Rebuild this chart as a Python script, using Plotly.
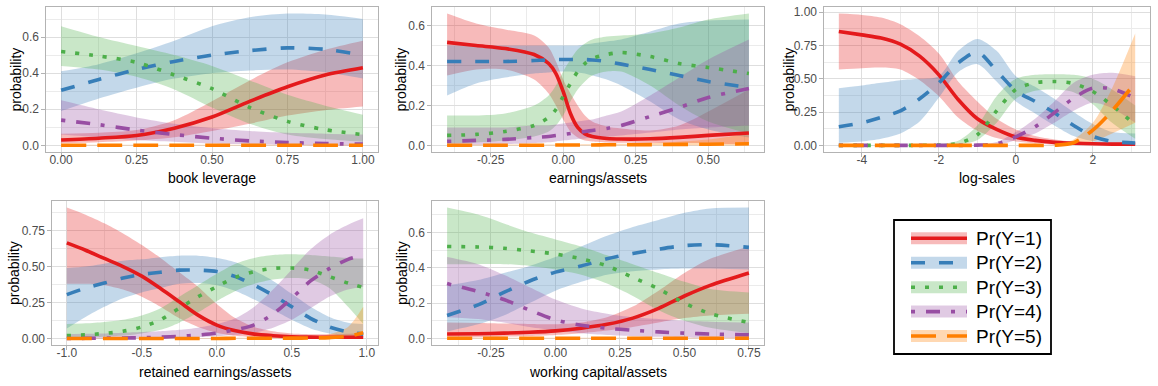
import plotly.graph_objects as go

# ---------------- data ----------------
# Panel 1: book leverage
lev_x = [0.0, 0.125, 0.25, 0.375, 0.5, 0.625, 0.75, 0.875, 1.0]
lev_p1 = [0.03, 0.04, 0.055, 0.095, 0.157, 0.244, 0.325, 0.39, 0.43]
lev_p1_lo = [0.012, 0.018, 0.027, 0.045, 0.08, 0.12, 0.165, 0.195, 0.215]
lev_p1_hi = [0.065, 0.07, 0.085, 0.14, 0.245, 0.36, 0.46, 0.53, 0.58]
lev_p2 = [0.305, 0.365, 0.42, 0.465, 0.50, 0.525, 0.54, 0.532, 0.50]
lev_p2_lo = [0.19, 0.26, 0.32, 0.37, 0.40, 0.415, 0.42, 0.405, 0.37]
lev_p2_hi = [0.41, 0.45, 0.51, 0.58, 0.66, 0.71, 0.73, 0.725, 0.70]
lev_p3 = [0.52, 0.495, 0.46, 0.39, 0.314, 0.21, 0.133, 0.087, 0.06]
lev_p3_lo = [0.44, 0.42, 0.38, 0.31, 0.21, 0.12, 0.06, 0.035, 0.02]
lev_p3_hi = [0.66, 0.60, 0.55, 0.50, 0.44, 0.36, 0.28, 0.22, 0.17]
lev_p4 = [0.14, 0.115, 0.085, 0.06, 0.04, 0.025, 0.016, 0.01, 0.007]
lev_p4_lo = [0.06, 0.045, 0.03, 0.02, 0.01, 0.005, 0.002, 0.001, 0.0]
lev_p4_hi = [0.25, 0.20, 0.155, 0.12, 0.095, 0.08, 0.07, 0.065, 0.06]
lev_p5 = [0.001, 0.001, 0.001, 0.001, 0.001, 0.001, 0.001, 0.001, 0.001]
lev_p5_lo = [0.0, 0.0, 0.0, 0.0, 0.0, 0.0, 0.0, 0.0, 0.0]
lev_p5_hi = [0.004, 0.004, 0.004, 0.004, 0.004, 0.004, 0.004, 0.004, 0.004]

# Panel 2: earnings/assets
ea_x = [-0.4, -0.3, -0.2, -0.1, -0.05, -0.025, 0.0, 0.025, 0.05, 0.075, 0.1, 0.15, 0.2, 0.3, 0.4, 0.5, 0.64]
ea_p1 = [0.516, 0.50, 0.485, 0.455, 0.41, 0.36, 0.27, 0.16, 0.09, 0.058, 0.045, 0.035, 0.032, 0.033, 0.04, 0.05, 0.062]
ea_p1_lo = [0.35, 0.38, 0.38, 0.33, 0.26, 0.2, 0.13, 0.07, 0.04, 0.025, 0.02, 0.015, 0.013, 0.012, 0.012, 0.01, 0.006]
ea_p1_hi = [0.66, 0.61, 0.58, 0.55, 0.49, 0.42, 0.33, 0.26, 0.2, 0.15, 0.12, 0.095, 0.085, 0.075, 0.1, 0.17, 0.28]
ea_p2 = [0.42, 0.42, 0.42, 0.425, 0.428, 0.43, 0.43, 0.43, 0.43, 0.43, 0.428, 0.42, 0.407, 0.38, 0.35, 0.32, 0.29]
ea_p2_lo = [0.25, 0.31, 0.34, 0.36, 0.365, 0.37, 0.37, 0.37, 0.365, 0.36, 0.35, 0.33, 0.3, 0.22, 0.13, 0.08, 0.04]
ea_p2_hi = [0.5, 0.5, 0.5, 0.5, 0.5, 0.5, 0.5, 0.5, 0.5, 0.505, 0.51, 0.52, 0.53, 0.57, 0.61, 0.625, 0.63]
ea_p3 = [0.05, 0.055, 0.07, 0.10, 0.14, 0.18, 0.245, 0.31, 0.37, 0.41, 0.435, 0.455, 0.465, 0.445, 0.41, 0.39, 0.36]
ea_p3_lo = [0.01, 0.015, 0.025, 0.045, 0.07, 0.1, 0.15, 0.22, 0.28, 0.32, 0.35, 0.37, 0.37, 0.3, 0.2, 0.12, 0.06]
ea_p3_hi = [0.15, 0.15, 0.16, 0.2, 0.25, 0.3, 0.37, 0.43, 0.48, 0.51, 0.53, 0.545, 0.55, 0.56, 0.59, 0.63, 0.66]
ea_p4 = [0.02, 0.025, 0.03, 0.04, 0.045, 0.05, 0.055, 0.06, 0.065, 0.07, 0.075, 0.085, 0.1, 0.145, 0.19, 0.24, 0.285]
ea_p4_lo = [0.0, 0.003, 0.006, 0.012, 0.016, 0.02, 0.024, 0.028, 0.032, 0.035, 0.038, 0.043, 0.05, 0.065, 0.08, 0.09, 0.1]
ea_p4_hi = [0.09, 0.09, 0.09, 0.1, 0.1, 0.105, 0.11, 0.115, 0.12, 0.125, 0.13, 0.15, 0.17, 0.25, 0.34, 0.43, 0.53]
ea_p5 = [0.001, 0.001, 0.001, 0.001, 0.001, 0.002, 0.002, 0.002, 0.002, 0.002, 0.002, 0.003, 0.003, 0.004, 0.005, 0.006, 0.008]
ea_p5_lo = [0.0] * 17
ea_p5_hi = [0.004, 0.004, 0.004, 0.004, 0.004, 0.005, 0.005, 0.005, 0.005, 0.006, 0.006, 0.007, 0.008, 0.012, 0.02, 0.03, 0.06]

# Panel 3: log-sales
ls_x = [-4.6, -4.0, -3.5, -3.0, -2.5, -2.0, -1.5, -1.0, -0.5, 0.0, 0.5, 1.0, 1.5, 2.0, 2.5, 3.1]
ls_p1 = [0.856, 0.83, 0.806, 0.76, 0.67, 0.53, 0.345, 0.2, 0.12, 0.063, 0.038, 0.023, 0.016, 0.012, 0.01, 0.01]
ls_p1_lo = [0.57, 0.58, 0.585, 0.57, 0.49, 0.37, 0.21, 0.11, 0.055, 0.03, 0.015, 0.007, 0.004, 0.003, 0.002, 0.002]
ls_p1_hi = [0.99, 0.98, 0.96, 0.91, 0.82, 0.69, 0.48, 0.33, 0.2, 0.12, 0.07, 0.045, 0.03, 0.025, 0.02, 0.02]
ls_p2 = [0.14, 0.17, 0.21, 0.26, 0.35, 0.47, 0.62, 0.70, 0.56, 0.41, 0.33, 0.245, 0.15, 0.068, 0.03, 0.018]
ls_p2_lo = [0.02, 0.03, 0.05, 0.09, 0.18, 0.36, 0.55, 0.61, 0.48, 0.33, 0.24, 0.15, 0.07, 0.03, 0.01, 0.005]
ls_p2_hi = [0.43, 0.45, 0.47, 0.49, 0.5, 0.52, 0.71, 0.80, 0.71, 0.52, 0.44, 0.35, 0.25, 0.16, 0.1, 0.09]
ls_p3 = [0.0, 0.0, 0.0, 0.0, 0.001, 0.003, 0.015, 0.08, 0.26, 0.42, 0.47, 0.48, 0.465, 0.405, 0.30, 0.156]
ls_p3_lo = [0.0, 0.0, 0.0, 0.0, 0.0, 0.001, 0.005, 0.04, 0.17, 0.35, 0.41, 0.42, 0.40, 0.31, 0.17, 0.05]
ls_p3_hi = [0.001, 0.001, 0.001, 0.002, 0.004, 0.01, 0.035, 0.15, 0.37, 0.5, 0.53, 0.535, 0.53, 0.5, 0.42, 0.3]
ls_p4 = [0.0, 0.0, 0.0, 0.0, 0.0, 0.0, 0.0, 0.002, 0.012, 0.065, 0.14, 0.245, 0.355, 0.43, 0.425, 0.355]
ls_p4_lo = [0.0, 0.0, 0.0, 0.0, 0.0, 0.0, 0.0, 0.0, 0.001, 0.04, 0.09, 0.17, 0.26, 0.32, 0.28, 0.17]
ls_p4_hi = [0.0, 0.0, 0.0, 0.0, 0.0, 0.0, 0.001, 0.005, 0.025, 0.1, 0.2, 0.33, 0.47, 0.53, 0.545, 0.52]
ls_p5 = [0.0, 0.0, 0.0, 0.0, 0.0, 0.0, 0.0, 0.0, 0.0, 0.0, 0.0, 0.001, 0.02, 0.115, 0.26, 0.47]
ls_p5_lo = [0.0, 0.0, 0.0, 0.0, 0.0, 0.0, 0.0, 0.0, 0.0, 0.0, 0.0, 0.0, 0.003, 0.03, 0.09, 0.17]
ls_p5_hi = [0.0, 0.0, 0.0, 0.0, 0.0, 0.0, 0.0, 0.0, 0.0, 0.0, 0.001, 0.005, 0.045, 0.17, 0.43, 0.84]

# Panel 4: retained earnings/assets
re_x = [-1.0, -0.875, -0.75, -0.625, -0.5, -0.375, -0.25, -0.125, 0.0, 0.125, 0.25, 0.375, 0.5, 0.625, 0.75, 0.875, 0.976]
re_p1 = [0.664, 0.613, 0.556, 0.50, 0.433, 0.347, 0.255, 0.162, 0.093, 0.053, 0.03, 0.019, 0.012, 0.009, 0.008, 0.008, 0.008]
re_p1_lo = [0.38, 0.38, 0.37, 0.34, 0.29, 0.22, 0.14, 0.08, 0.04, 0.018, 0.008, 0.004, 0.002, 0.001, 0.001, 0.001, 0.001]
re_p1_hi = [0.91, 0.86, 0.80, 0.73, 0.65, 0.56, 0.46, 0.36, 0.24, 0.14, 0.08, 0.05, 0.035, 0.03, 0.03, 0.032, 0.04]
re_p2 = [0.305, 0.35, 0.385, 0.42, 0.445, 0.46, 0.475, 0.475, 0.465, 0.43, 0.37, 0.30, 0.22, 0.14, 0.08, 0.045, 0.03]
re_p2_lo = [0.07, 0.15, 0.22, 0.28, 0.32, 0.35, 0.38, 0.385, 0.37, 0.33, 0.27, 0.2, 0.13, 0.07, 0.035, 0.015, 0.01]
re_p2_hi = [0.49, 0.50, 0.52, 0.54, 0.55, 0.565, 0.575, 0.575, 0.56, 0.53, 0.47, 0.4, 0.31, 0.22, 0.15, 0.11, 0.1]
re_p3 = [0.02, 0.025, 0.035, 0.05, 0.08, 0.13, 0.21, 0.29, 0.36, 0.425, 0.465, 0.487, 0.49, 0.475, 0.43, 0.385, 0.355]
re_p3_lo = [0.005, 0.008, 0.012, 0.02, 0.035, 0.06, 0.11, 0.18, 0.26, 0.33, 0.38, 0.41, 0.42, 0.41, 0.35, 0.22, 0.1]
re_p3_hi = [0.1, 0.105, 0.115, 0.13, 0.16, 0.21, 0.29, 0.37, 0.45, 0.52, 0.56, 0.58, 0.585, 0.58, 0.57, 0.56, 0.555]
re_p4 = [0.0, 0.001, 0.002, 0.003, 0.005, 0.009, 0.015, 0.024, 0.037, 0.06, 0.095, 0.17, 0.28, 0.40, 0.485, 0.55, 0.58]
re_p4_lo = [0.0, 0.0, 0.0, 0.001, 0.002, 0.003, 0.005, 0.009, 0.015, 0.025, 0.04, 0.075, 0.13, 0.21, 0.29, 0.34, 0.36]
re_p4_hi = [0.03, 0.032, 0.035, 0.04, 0.045, 0.05, 0.06, 0.075, 0.1, 0.14, 0.22, 0.34, 0.48, 0.62, 0.72, 0.79, 0.835]
re_p5 = [0.0, 0.0, 0.0, 0.0, 0.0, 0.0, 0.0, 0.0, 0.0, 0.001, 0.001, 0.001, 0.002, 0.003, 0.006, 0.015, 0.04]
re_p5_lo = [0.0] * 17
re_p5_hi = [0.003, 0.003, 0.003, 0.003, 0.003, 0.003, 0.003, 0.003, 0.003, 0.004, 0.004, 0.005, 0.006, 0.01, 0.03, 0.08, 0.22]

# Panel 5: working capital/assets
wc_x = [-0.42, -0.3, -0.2, -0.1, 0.0, 0.1, 0.2, 0.3, 0.4, 0.5, 0.6, 0.75]
wc_p1 = [0.025, 0.027, 0.03, 0.035, 0.043, 0.058, 0.08, 0.115, 0.17, 0.24, 0.30, 0.37]
wc_p1_lo = [0.005, 0.007, 0.01, 0.014, 0.02, 0.03, 0.045, 0.065, 0.09, 0.115, 0.13, 0.14]
wc_p1_hi = [0.09, 0.088, 0.085, 0.082, 0.08, 0.09, 0.12, 0.18, 0.27, 0.37, 0.45, 0.52]
wc_p2 = [0.13, 0.19, 0.26, 0.325, 0.375, 0.41, 0.45, 0.48, 0.505, 0.525, 0.53, 0.515]
wc_p2_lo = [0.04, 0.08, 0.13, 0.2, 0.27, 0.32, 0.36, 0.38, 0.39, 0.395, 0.395, 0.39]
wc_p2_hi = [0.30, 0.33, 0.37, 0.41, 0.46, 0.52, 0.58, 0.63, 0.67, 0.71, 0.735, 0.74]
wc_p3 = [0.52, 0.517, 0.51, 0.495, 0.477, 0.45, 0.41, 0.345, 0.28, 0.20, 0.14, 0.09]
wc_p3_lo = [0.42, 0.42, 0.42, 0.41, 0.39, 0.36, 0.31, 0.24, 0.16, 0.1, 0.06, 0.03]
wc_p3_hi = [0.74, 0.70, 0.65, 0.60, 0.56, 0.52, 0.47, 0.42, 0.37, 0.32, 0.28, 0.26]
wc_p4 = [0.31, 0.265, 0.22, 0.16, 0.105, 0.075, 0.058, 0.046, 0.037, 0.03, 0.025, 0.02]
wc_p4_lo = [0.12, 0.11, 0.09, 0.065, 0.045, 0.03, 0.02, 0.013, 0.009, 0.006, 0.004, 0.003]
wc_p4_hi = [0.46, 0.42, 0.36, 0.29, 0.22, 0.17, 0.14, 0.12, 0.11, 0.10, 0.095, 0.09]
wc_p5 = [0.001] * 12
wc_p5_lo = [0.0] * 12
wc_p5_hi = [0.004] * 12

# tick values / labels
lev_xticks = [0.0, 0.25, 0.5, 0.75, 1.0]
lev_xlabels = ["0.00", "0.25", "0.50", "0.75", "1.00"]
lev_yticks = [0.0, 0.2, 0.4, 0.6]
lev_ylabels = ["0.0", "0.2", "0.4", "0.6"]
ea_xticks = [-0.25, 0.0, 0.25, 0.5]
ea_xlabels = ["-0.25", "0.00", "0.25", "0.50"]
ea_yticks = [0.0, 0.2, 0.4, 0.6]
ea_ylabels = ["0.0", "0.2", "0.4", "0.6"]
ls_xticks = [-4, -2, 0, 2]
ls_xlabels = ["-4", "-2", "0", "2"]
ls_yticks = [0.0, 0.25, 0.5, 0.75, 1.0]
ls_ylabels = ["0.00", "0.25", "0.50", "0.75", "1.00"]
re_xticks = [-1.0, -0.5, 0.0, 0.5, 1.0]
re_xlabels = ["-1.0", "-0.5", "0.0", "0.5", "1.0"]
re_yticks = [0.0, 0.25, 0.5, 0.75]
re_ylabels = ["0.00", "0.25", "0.50", "0.75"]
wc_xticks = [-0.25, 0.0, 0.25, 0.5, 0.75]
wc_xlabels = ["-0.25", "0.00", "0.25", "0.50", "0.75"]
wc_yticks = [0.0, 0.2, 0.4, 0.6]
wc_ylabels = ["0.0", "0.2", "0.4", "0.6"]

x_titles = ["book leverage", "earnings/assets", "log-sales",
            "retained earnings/assets", "working capital/assets"]
y_title = "probability"
legend_labels = ["Pr(Y=1)", "Pr(Y=2)", "Pr(Y=3)", "Pr(Y=4)", "Pr(Y=5)"]

# ---------------- styling ----------------
W, H = 1158, 386
colors = ["#E41A1C", "#377EB8", "#4DAF4A", "#984EA3", "#FF7F00"]
fills = ["rgba(228,26,28,0.3)", "rgba(55,126,184,0.3)", "rgba(77,175,74,0.3)",
         "rgba(152,78,163,0.3)", "rgba(255,127,0,0.3)"]
dashes = ["solid", "14px,14px", "4px,10px", "4px,11px,14px,11px", "25px,11px"]
LW = 3.6
FONT = "Liberation Sans, Arial, Helvetica, sans-serif"

# pixel boxes of the panels: (left, right, top, bottom)
boxes = [(46, 378, 7, 152), (432, 764, 7, 152), (824, 1150, 7, 152),
         (52, 378, 201, 345), (432, 764, 201, 345)]
# pixel positions of axis titles
xtitle_y = [178, 178, 178, 372, 372]
ytitle_x = [15, 400, 788, 14, 402]

panels = [
    (lev_x, [(lev_p1, lev_p1_lo, lev_p1_hi), (lev_p2, lev_p2_lo, lev_p2_hi), (lev_p3, lev_p3_lo, lev_p3_hi),
             (lev_p4, lev_p4_lo, lev_p4_hi), (lev_p5, lev_p5_lo, lev_p5_hi)],
     lev_xticks, lev_xlabels, lev_yticks, lev_ylabels),
    (ea_x, [(ea_p1, ea_p1_lo, ea_p1_hi), (ea_p2, ea_p2_lo, ea_p2_hi), (ea_p3, ea_p3_lo, ea_p3_hi),
            (ea_p4, ea_p4_lo, ea_p4_hi), (ea_p5, ea_p5_lo, ea_p5_hi)],
     ea_xticks, ea_xlabels, ea_yticks, ea_ylabels),
    (ls_x, [(ls_p1, ls_p1_lo, ls_p1_hi), (ls_p2, ls_p2_lo, ls_p2_hi), (ls_p3, ls_p3_lo, ls_p3_hi),
            (ls_p4, ls_p4_lo, ls_p4_hi), (ls_p5, ls_p5_lo, ls_p5_hi)],
     ls_xticks, ls_xlabels, ls_yticks, ls_ylabels),
    (re_x, [(re_p1, re_p1_lo, re_p1_hi), (re_p2, re_p2_lo, re_p2_hi), (re_p3, re_p3_lo, re_p3_hi),
            (re_p4, re_p4_lo, re_p4_hi), (re_p5, re_p5_lo, re_p5_hi)],
     re_xticks, re_xlabels, re_yticks, re_ylabels),
    (wc_x, [(wc_p1, wc_p1_lo, wc_p1_hi), (wc_p2, wc_p2_lo, wc_p2_hi), (wc_p3, wc_p3_lo, wc_p3_hi),
            (wc_p4, wc_p4_lo, wc_p4_hi), (wc_p5, wc_p5_lo, wc_p5_hi)],
     wc_xticks, wc_xlabels, wc_yticks, wc_ylabels),
]


def minor_vals(ticks, lo, hi):
    step = ticks[1] - ticks[0]
    ext = [ticks[0] - step] + list(ticks) + [ticks[-1] + step]
    mids = [(a + b) / 2 for a, b in zip(ext[:-1], ext[1:])]
    return [m for m in mids if lo <= m <= hi]


fig = go.Figure()
layout = {}
annotations = []
for i, (xs, series, xt, xl, yt, yl) in enumerate(panels):
    n = i + 1
    xa = "x" if n == 1 else f"x{n}"
    ya = "y" if n == 1 else f"y{n}"
    # ribbons
    for k, (m, lo, hi) in enumerate(series):
        fig.add_trace(go.Scatter(x=xs, y=lo, xaxis=xa, yaxis=ya, mode="lines",
                                 line=dict(width=0, shape="spline", smoothing=0.8),
                                 showlegend=False, hoverinfo="skip"))
        fig.add_trace(go.Scatter(x=xs, y=hi, xaxis=xa, yaxis=ya, mode="lines",
                                 line=dict(width=0, shape="spline", smoothing=0.8),
                                 fill="tonexty", fillcolor=fills[k],
                                 showlegend=False, hoverinfo="skip"))
    # lines
    for k, (m, lo, hi) in enumerate(series):
        fig.add_trace(go.Scatter(x=xs, y=m, xaxis=xa, yaxis=ya, mode="lines",
                                 line=dict(color=colors[k], width=LW, dash=dashes[k],
                                           shape="spline", smoothing=0.8),
                                 name=legend_labels[k], showlegend=False))
    # ranges with ggplot-like 5% expansion
    xmin, xmax = min(xs), max(xs)
    allv = [v for s in series for arr in s for v in arr]
    ymin, ymax = min(allv), max(allv)
    xr = [xmin - 0.05 * (xmax - xmin), xmax + 0.05 * (xmax - xmin)]
    yr = [ymin - 0.05 * (ymax - ymin), ymax + 0.05 * (ymax - ymin)]
    L, R, T, B = boxes[i]
    common = dict(showline=True, mirror=True, linecolor="#B3B3B3", linewidth=1.1,
                  showgrid=True, gridcolor="#DEDEDE", gridwidth=1,
                  ticks="outside", ticklen=3.5, tickwidth=0.8, tickcolor="#B3B3B3",
                  tickfont=dict(family=FONT, size=12, color="#4D4D4D"),
                  zeroline=False, automargin=False, tickmode="array")
    layout["xaxis" if n == 1 else f"xaxis{n}"] = dict(
        common, domain=[L / W, R / W], anchor=ya, range=xr,
        tickvals=xt, ticktext=xl, ticklabelstandoff=-7,
        minor=dict(tickmode="array", tickvals=minor_vals(xt, xr[0], xr[1]),
                   showgrid=True, gridcolor="#EBEBEB", gridwidth=0.7, ticks=""))
    layout["yaxis" if n == 1 else f"yaxis{n}"] = dict(
        common, domain=[1 - B / H, 1 - T / H], anchor=xa, range=yr,
        tickvals=yt, ticktext=yl,
        minor=dict(tickmode="array", tickvals=minor_vals(yt, yr[0], yr[1]),
                   showgrid=True, gridcolor="#EBEBEB", gridwidth=0.7, ticks=""))
    # axis titles
    annotations.append(dict(xref="paper", yref="paper", x=(L + R) / 2 / W, y=1 - xtitle_y[i] / H,
                            text=x_titles[i], showarrow=False, xanchor="center", yanchor="middle",
                            font=dict(family=FONT, size=14, color="black")))
    annotations.append(dict(xref="paper", yref="paper", x=ytitle_x[i] / W, y=1 - (T + B) / 2 / H,
                            text=y_title, showarrow=False, xanchor="center", yanchor="middle",
                            textangle=-90, font=dict(family=FONT, size=14, color="black")))

# ---------------- legend (drawn box with ribbon+line keys) ----------------
shapes = []
bx0, bx1, by0, by1 = 894, 1051, 220, 354
shapes.append(dict(type="rect", xref="paper", yref="paper",
                   x0=bx0 / W, x1=bx1 / W, y0=1 - by1 / H, y1=1 - by0 / H,
                   line=dict(color="black", width=1.8), fillcolor="white", layer="above"))
row_y = [238.3, 262.7, 287.2, 311.6, 336.0]
kx0, kx1 = 911, 967
for k, lab in enumerate(legend_labels):
    yc = row_y[k]
    shapes.append(dict(type="rect", xref="paper", yref="paper",
                       x0=kx0 / W, x1=kx1 / W, y0=1 - (yc + 6) / H, y1=1 - (yc - 6) / H,
                       line=dict(width=0), fillcolor=fills[k], layer="above"))
    shapes.append(dict(type="line", xref="paper", yref="paper",
                       x0=kx0 / W, x1=kx1 / W, y0=1 - yc / H, y1=1 - yc / H,
                       line=dict(color=colors[k], width=LW, dash=dashes[k]), layer="above"))
    annotations.append(dict(xref="paper", yref="paper", x=974 / W, y=1 - yc / H,
                            text=lab, showarrow=False, xanchor="left", yanchor="middle",
                            font=dict(family=FONT, size=19, color="black")))

fig.update_layout(
    width=W, height=H, margin=dict(l=0, r=0, t=0, b=0),
    paper_bgcolor="white", plot_bgcolor="white",
    showlegend=False, shapes=shapes, annotations=annotations,
    font=dict(family=FONT), **layout)

fig.write_html("out.html", config={"displayModeBar": False},
               post_script="document.body.style.margin='0';document.body.style.overflow='hidden';")
